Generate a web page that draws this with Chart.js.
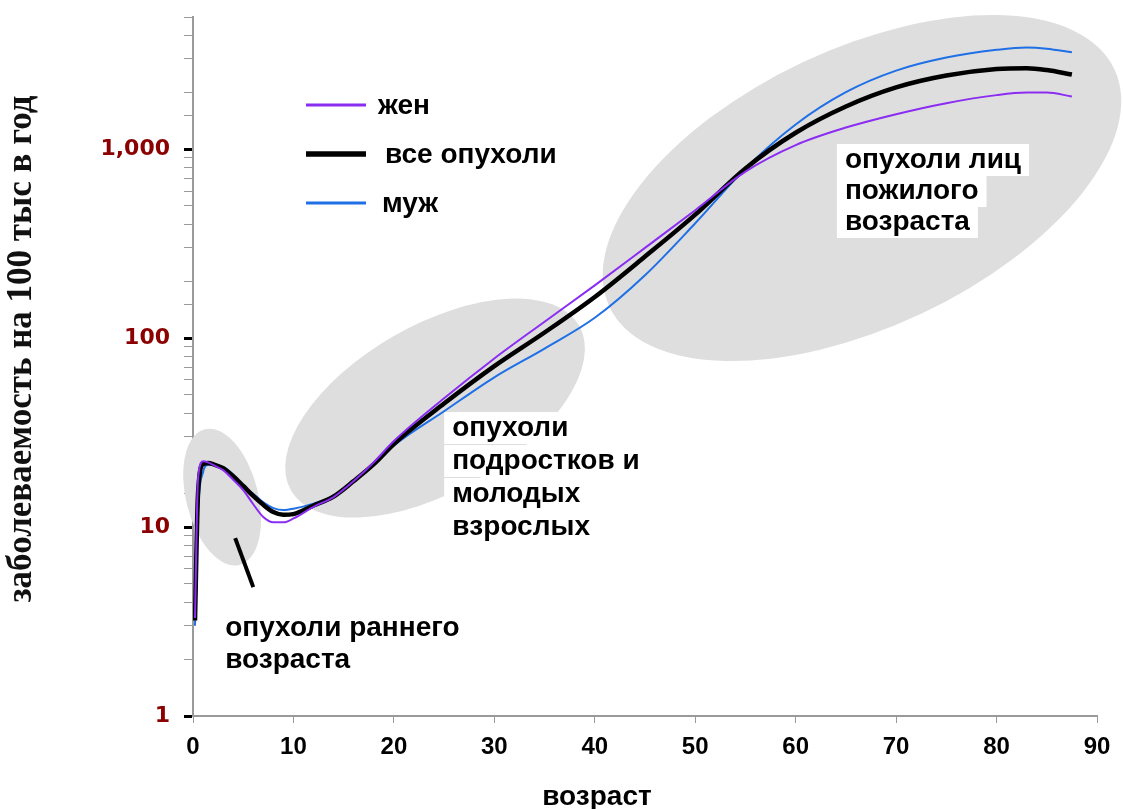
<!DOCTYPE html>
<html lang="ru">
<head>
<meta charset="utf-8">
<title>Заболеваемость опухолями по возрасту</title>
<script src="https://cdn.jsdelivr.net/npm/chart.js@4.4.1/dist/chart.umd.min.js"></script>
<style>
    html, body { margin: 0; padding: 0; background: #fff; }
    canvas { display: block; }
</style>
</head>
<body>
<canvas id="incidenceChart" width="1123" height="809"></canvas>
<script>
// возраст, лет
const ages = [0.2, 0.5, 1, 1.5, 2, 3, 4, 5, 6, 7, 8, 9, 10, 12, 14, 16, 18, 20,
    25, 30, 35, 40, 45, 50, 55, 60, 65, 70, 75, 80, 83, 85, 87.5];

// заболеваемость на 100 тыс в год
const womenRates = [3.3, 18, 22.3, 22, 21.3, 20, 17.8, 15.7, 13.2, 11.3, 10.6, 10.6, 11.1, 12.8, 14.4, 17.5, 22, 28.5,
    48, 78, 122, 190, 300, 475, 760, 1050, 1300, 1530, 1750, 1930, 1990, 1990, 1900];
const allRates = [3.2, 15, 21.5, 21.8, 21.5, 20.5, 18.6, 16.5, 14.6, 13.1, 12.0, 11.6, 11.7, 13.0, 14.5, 17.5, 21.5, 27.5,
    45, 71, 107, 165, 270, 450, 790, 1220, 1680, 2120, 2450, 2650, 2680, 2620, 2480];
const menRates = [3.0, 12, 19.5, 21.3, 21.3, 20.8, 18.9, 16.3, 15.0, 13.5, 12.6, 12.3, 12.5, 13.3, 14.6, 17.5, 21.5, 27,
    41, 62, 88, 128, 215, 405, 790, 1350, 2000, 2600, 3050, 3350, 3450, 3400, 3250];

const seriesNames = ['жен', 'все опухоли', 'муж'];
const seriesColors = ['#8b2cf2', '#000000', '#1f6fe6'];
const seriesWidths = [2, 4.5, 2];

const xTicks = [0, 10, 20, 30, 40, 50, 60, 70, 80, 90];
const yTickLabels = [1, 10, 100, 1000];

const xTitle = 'возраст';
const yTitle = 'заболеваемость на 100 тыс в год';

// серые области возрастных групп (центр в единицах осей, размеры в пикселях)
const zones = [
    { age: 2.9, rate: 14.4, rx: 36, ry: 70, angle: -0.25 },
    { age: 24.1, rate: 42.6, rx: 166, ry: 83, angle: -0.52 },
    { age: 66.6, rate: 622, rx: 279, ry: 139, angle: -0.44 }
];

const captions = [
    { age: 3.2, rate: 2.92, gap: 32, boxed: false, lines: ['опухоли раннего', 'возраста'] },
    { age: 25.8, rate: 33.4, gap: 33, boxed: true, lines: ['опухоли', 'подростков и', 'молодых', 'взрослых'] },
    { age: 64.9, rate: 875, gap: 31, boxed: true, lines: ['опухоли лиц', 'пожилого', 'возраста'] }
];

// указатель от подписи к ранней группе
const pointer = { from: [4.2, 8.74], to: [6.0, 4.81] };

const textFont = 'bold 28px "Liberation Sans", Arial, sans-serif';

const toPoints = rates => ages.map((a, i) => ({ x: a, y: rates[i] }));

const zonesPlugin = {
    id: 'ageZones',
    beforeDatasetsDraw(chart) {
        const { ctx, scales: { x, y } } = chart;
        ctx.save();
        ctx.fillStyle = '#dedede';
        zones.forEach(z => {
            ctx.beginPath();
            ctx.ellipse(x.getPixelForValue(z.age), y.getPixelForValue(z.rate), z.rx, z.ry, z.angle, 0, Math.PI * 2);
            ctx.fill();
        });

        ctx.font = textFont;
        ctx.textBaseline = 'middle';
        ctx.textAlign = 'left';
        captions.forEach(c => {
            const left = x.getPixelForValue(c.age);
            const top = y.getPixelForValue(c.rate);
            c.lines.forEach((line, i) => {
                const cy = top + i * c.gap;
                if (c.boxed) {
                    ctx.fillStyle = '#fff';
                    ctx.fillRect(left - 8, cy - 16, ctx.measureText(line).width + 16, 32);
                }
                ctx.fillStyle = '#000';
                ctx.fillText(line, left, cy);
            });
        });

        ctx.strokeStyle = '#000';
        ctx.lineWidth = 4;
        ctx.beginPath();
        ctx.moveTo(x.getPixelForValue(pointer.from[0]), y.getPixelForValue(pointer.from[1]));
        ctx.lineTo(x.getPixelForValue(pointer.to[0]), y.getPixelForValue(pointer.to[1]));
        ctx.stroke();
        ctx.restore();
    },
    afterDatasetsDraw(chart) {
        // легенда внутри области графика
        const { ctx, chartArea } = chart;
        const left = chartArea.left + 113;
        const top = chartArea.top + 88;
        ctx.save();
        ctx.font = textFont;
        ctx.textBaseline = 'middle';
        chart.data.datasets.forEach((ds, i) => {
            const cy = top + i * 49;
            ctx.strokeStyle = ds.borderColor;
            ctx.lineWidth = ds.borderWidth + 1;
            ctx.beginPath();
            ctx.moveTo(left, cy);
            ctx.lineTo(left + 60, cy);
            ctx.stroke();
            ctx.fillStyle = '#000';
            ctx.fillText(ds.label, left + 72 + (i === 1 ? 7 : i === 2 ? 4 : 0), cy + 1);
        });
        ctx.restore();
    },
    afterDraw(chart) {
        // подписи осей
        const { ctx, chartArea } = chart;
        ctx.save();
        ctx.fillStyle = '#000';
        ctx.textAlign = 'center';
        ctx.textBaseline = 'middle';
        ctx.font = textFont;
        ctx.fillText(xTitle, chartArea.left + 404, chartArea.bottom + 81);

        ctx.translate(22, chartArea.top + 332);
        ctx.rotate(-Math.PI / 2);
        ctx.fillStyle = '#111';
        ctx.font = 'bold 35px "Liberation Serif", "Times New Roman", serif';
        ctx.fillText(yTitle, 0, 0);
        ctx.restore();
    }
};

const ctx = document.getElementById('incidenceChart').getContext('2d');

new Chart(ctx, {
    type: 'line',
    data: {
        datasets: [womenRates, allRates, menRates].map((rates, i) => ({
            label: seriesNames[i],
            data: toPoints(rates),
            borderColor: seriesColors[i],
            borderWidth: seriesWidths[i],
            pointRadius: 0,
            fill: false,
            cubicInterpolationMode: 'monotone'
        }))
    },
    options: {
        responsive: false,
        animation: false,
        layout: { padding: { top: 17, right: 26, left: 0, bottom: 0 } },
        plugins: {
            legend: { display: false },
            tooltip: { enabled: false }
        },
        scales: {
            x: {
                type: 'linear',
                min: 0,
                max: 90,
                afterBuildTicks: scale => { scale.ticks = xTicks.map(v => ({ value: v })); },
                afterFit: scale => { scale.height = 93; },
                ticks: {
                    color: '#000',
                    padding: 10,
                    maxRotation: 0,
                    font: { family: '"Liberation Sans", Arial, sans-serif', size: 24, weight: 'bold' }
                },
                grid: { drawOnChartArea: false, tickLength: 7, tickColor: '#999' },
                border: { color: '#9a9a9a', width: 2 }
            },
            y: {
                type: 'logarithmic',
                min: 1,
                max: 5000,
                afterFit: scale => {
                    scale.width = 193;
                    scale.paddingTop = 0;
                    scale.paddingBottom = 0;
                },
                ticks: {
                    autoSkip: false,
                    color: '#8b0000',
                    padding: 14,
                    font: { family: '"DejaVu Sans", sans-serif', size: 22, weight: 'bold' },
                    callback: v => yTickLabels.includes(v) ? v.toLocaleString('en-US') : ''
                },
                grid: {
                    drawOnChartArea: false,
                    tickLength: 9,
                    tickColor: c => yTickLabels.includes(c.tick.value) ? '#000' : '#999',
                    tickWidth: c => yTickLabels.includes(c.tick.value) ? 3 : 1
                },
                border: { color: '#9a9a9a', width: 2 }
            }
        }
    },
    plugins: [zonesPlugin]
});
</script>
</body>
</html>
